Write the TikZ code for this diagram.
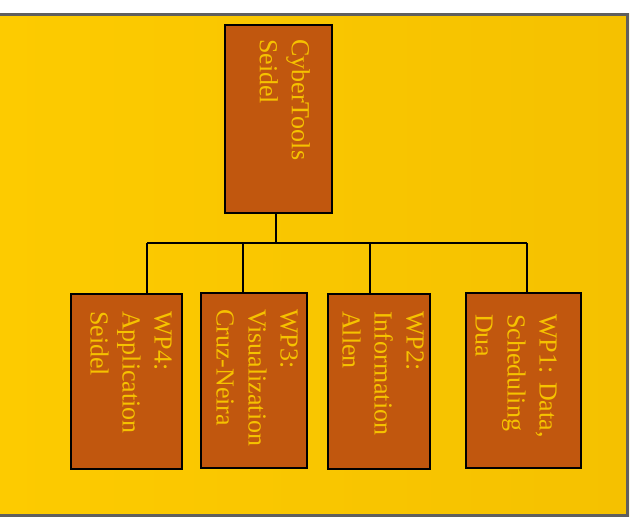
\documentclass[tikz,border=0pt]{standalone}
\usepackage{fontspec}
\setmainfont{Liberation Serif}
\definecolor{bgY}{RGB}{245,193,0}
\definecolor{bgYL}{RGB}{253,203,0}
\definecolor{boxO}{RGB}{193,87,14}
\definecolor{txtY}{RGB}{246,194,0}
\definecolor{frameG}{RGB}{95,95,95}
\begin{document}
\begin{tikzpicture}[x=1pt,y=-1pt,
  wpbox/.style={draw=black,line width=1.8pt,fill=boxO,inner sep=0pt},
  wptext/.style={rotate=-90,anchor=north west,inner sep=0pt,align=left,text=txtY,
     font=\fontsize{26}{32}\selectfont},
  link/.style={draw=black,line width=1.5pt}]
\useasboundingbox (0,0) rectangle (635,517);
\fill[white] (0,0) rectangle (635,517);
\shade[left color=bgYL,right color=bgY] (-5,13) rectangle (629,516.5);
\draw[frameG,line width=2.6pt] (-5,14.3) -- (627.7,14.3) -- (627.7,515.5) -- (-5,515.5);
% boxes
\node[wpbox,minimum width=107pt,minimum height=188pt] (root) at (278.5,119) {};
\node[wpbox,minimum width=111pt,minimum height=175pt] (wp4) at (126.5,381.5) {};
\node[wpbox,minimum width=106pt,minimum height=175pt] (wp3) at (254,380.5) {};
\node[wpbox,minimum width=102pt,minimum height=175pt] (wp2) at (379,381.5) {};
\node[wpbox,minimum width=115pt,minimum height=175pt] (wp1) at (523.5,380.5) {};
% texts
\node[wptext] (troot) at (310,39) {CyberTools\\Seidel};
\node[wptext] (twp4) at (172,311) {WP4:\\Application\\Seidel};
\node[wptext] (twp3) at (298,309) {WP3:\\Visualization\\Cruz-Neira};
\node[wptext] (twp2) at (424,311) {WP2:\\Information\\Allen};
\node[wptext] (twp1) at (557,314) {WP1: Data,\\Scheduling\\Dua};
% connectors
\coordinate (jr) at (276,243);
\coordinate (j4) at (147,243);
\coordinate (j3) at (243,243);
\coordinate (j2) at (370,243);
\coordinate (j1) at (527,243);
\draw[link] (jr |- root.south) -- (jr);
\draw[link] (j4) -- (j1);
\draw[link] (j4) -- (j4 |- wp4.north);
\draw[link] (j3) -- (j3 |- wp3.north);
\draw[link] (j2) -- (j2 |- wp2.north);
\draw[link] (j1) -- (j1 |- wp1.north);
\end{tikzpicture}
\end{document}
